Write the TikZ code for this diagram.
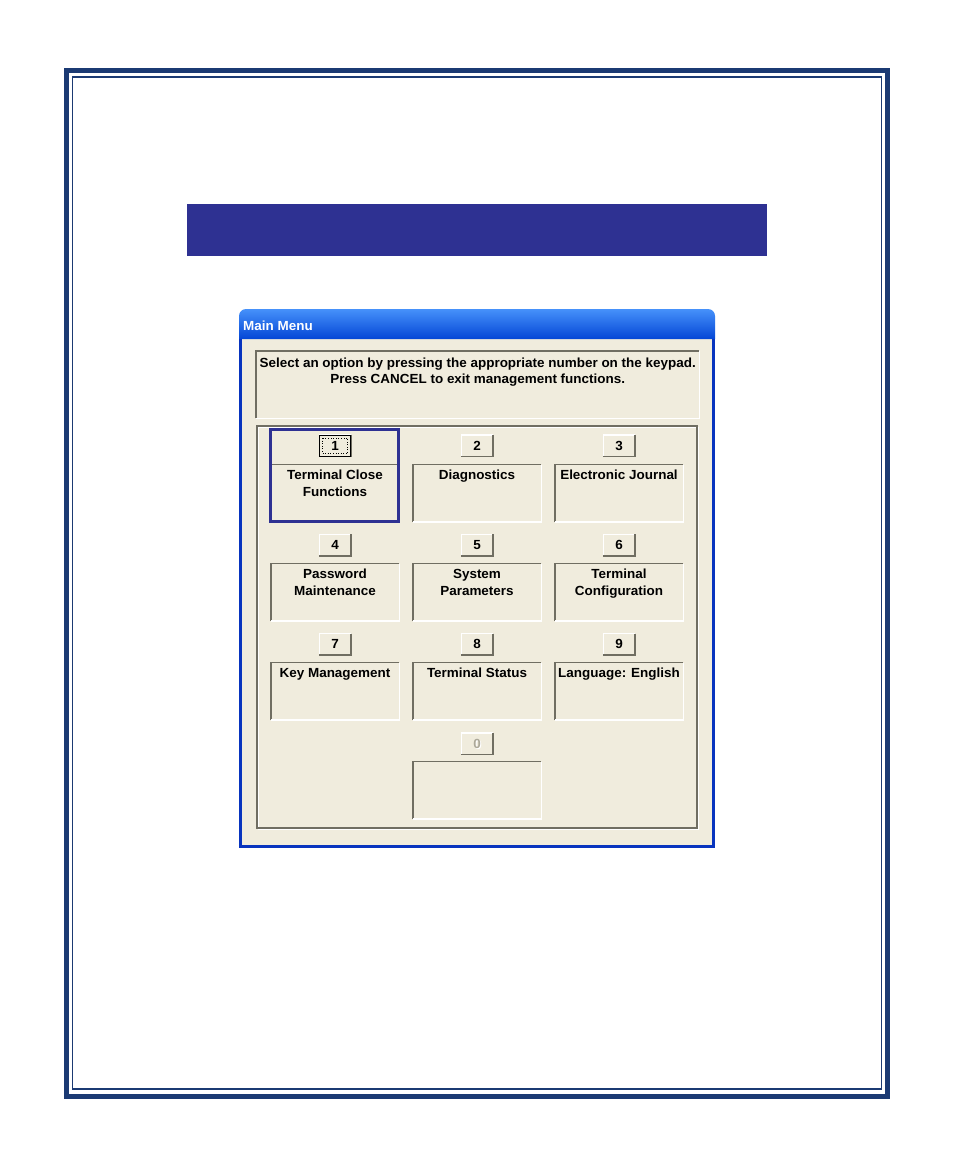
\documentclass[tikz,border=0pt]{standalone}
\usepackage{fontspec}
\setmainfont{Liberation Sans}
\newfontfamily\uifont{Liberation Sans}[FakeStretch=1.02]
\definecolor{xpbg}{RGB}{240,236,221}
\definecolor{xpdark}{RGB}{112,110,98}
\definecolor{xpgray}{RGB}{172,168,153}
\definecolor{frameblue}{RGB}{27,58,115}
\definecolor{barblue}{RGB}{46,49,146}
\definecolor{xpblue}{RGB}{8,52,190}
\definecolor{xptop}{RGB}{70,145,250}
\definecolor{xpmid}{RGB}{10,90,228}
\definecolor{xpbot}{RGB}{4,70,214}
\newcommand\menuoption[5]{%
  \pgfmathsetmacro\bty{435+99.3*#4}%
  \pgfmathsetmacro\bxy{464.5+99*#4}%
  \node[btnshape] (b#1) at (#3,\bty) {};
  \draw[lt] (b#1.south west) -- (b#1.north west) -- (b#1.north east);
  \draw[dkb] (b#1.north east) -- (b#1.south east) -- (b#1.south west);
  \node[ui] (n#1) at (b#1.center) {#2};
  \node[boxshape] (x#1) at (#3,\bxy) {};
  \draw[dk] (x#1.south west) -- (x#1.north west) -- (x#1.north east);
  \draw[lt] (x#1.north east) -- (x#1.south east) -- (x#1.south west);
  \node[ui, anchor=north] (t#1) at ([yshift=-5.5pt]x#1.north) {#5};
}
\begin{document}
\begin{tikzpicture}[x=1pt,y=-1pt,
  ui/.style={font=\uifont\bfseries\fontsize{13.2}{16.6}\selectfont, inner sep=0pt, align=center},
  boxshape/.style={fill=xpbg, minimum width=128pt, minimum height=57pt, inner sep=0pt, anchor=north},
  btnshape/.style={fill=xpbg, minimum width=31pt, minimum height=21pt, inner sep=0pt, anchor=north},
  dk/.style={draw=xpdark, line width=1.8pt},
  dkb/.style={draw=xpdark, line width=1.8pt},
  lt/.style={draw=white, line width=1.3pt},
]
\useasboundingbox (0,0) rectangle (954,1159);
\fill[white] (0,0) rectangle (954,1159);
% page frame
\draw[frameblue, line width=5pt] (66.5,70.5) rectangle (887,1096.5);
\draw[frameblue, line width=1.3pt] (72.3,77) rectangle (881.7,1089);
% heading bar
\fill[barblue] (187,204) rectangle (767,256);
% window
\fill[xpbg] (239,330) rectangle (715,848);
\draw[xpblue, line width=3pt] (240.5,330) -- (240.5,846.5) -- (713.5,846.5) -- (713.5,330);
\shade[top color=xptop, middle color=xpmid, bottom color=xpbot]
  (239,339) [rounded corners=7pt] -- (239,309) -- (715,309) [sharp corners] -- (715,339) -- cycle;
\node[ui, anchor=base west, text=white] (title) at (243,330) {Main Menu};
% message box
\node[fill=xpbg, minimum width=443pt, minimum height=67pt, inner sep=0pt, anchor=north west] (msgbox) at (256,351) {};
\draw[dk] (msgbox.south west) -- (msgbox.north west) -- (msgbox.north east);
\draw[lt] (msgbox.north east) -- (msgbox.south east) -- (msgbox.south west);
\node[ui, anchor=north] (msg) at ([yshift=-6.5pt]msgbox.north) {Select an option by pressing the appropriate number on the keypad.\\Press CANCEL to exit management functions.};
% group box
\draw[white, line width=1.2pt] (258.2,427.2) rectangle (698.2,829.2);
\draw[xpdark, line width=1.2pt] (257,426) rectangle (697,828);
% options
\menuoption{1}{1}{335}{0}{Terminal Close\\Functions}
\menuoption{2}{2}{477}{0}{Diagnostics}
\menuoption{3}{3}{619}{0}{Electronic Journal}
\menuoption{4}{4}{335}{1}{Password\\Maintenance}
\menuoption{5}{5}{477}{1}{System\\Parameters}
\menuoption{6}{6}{619}{1}{Terminal\\Configuration}
\menuoption{7}{7}{335}{2}{Key Management}
\menuoption{8}{8}{477}{2}{Terminal Status}
\menuoption{9}{9}{619}{2}{Language: English}
% option 0 (disabled)
\node[btnshape] (b0) at (477,733) {};
\draw[lt] (b0.south west) -- (b0.north west) -- (b0.north east);
\draw[dkb] (b0.north east) -- (b0.south east) -- (b0.south west);
\node[ui, text=white] (n0s) at ([shift={(1pt,-1pt)}]b0.center) {0};
\node[ui, text=xpgray] (n0) at (b0.center) {0};
\node[boxshape] (x0) at (477,761.5) {};
\draw[dk] (x0.south west) -- (x0.north west) -- (x0.north east);
\draw[lt] (x0.north east) -- (x0.south east) -- (x0.south west);
% default button focus
\draw[black, line width=1pt] (b1.north west) rectangle (b1.south east);
\draw[black, dotted, line width=0.6pt] ([shift={(3pt,-3pt)}]b1.north west) rectangle ([shift={(-3pt,3pt)}]b1.south east);
% selection highlight
\draw[barblue, line width=3pt] (270.5,429.5) rectangle (398.5,521.5);
\end{tikzpicture}
\end{document}
